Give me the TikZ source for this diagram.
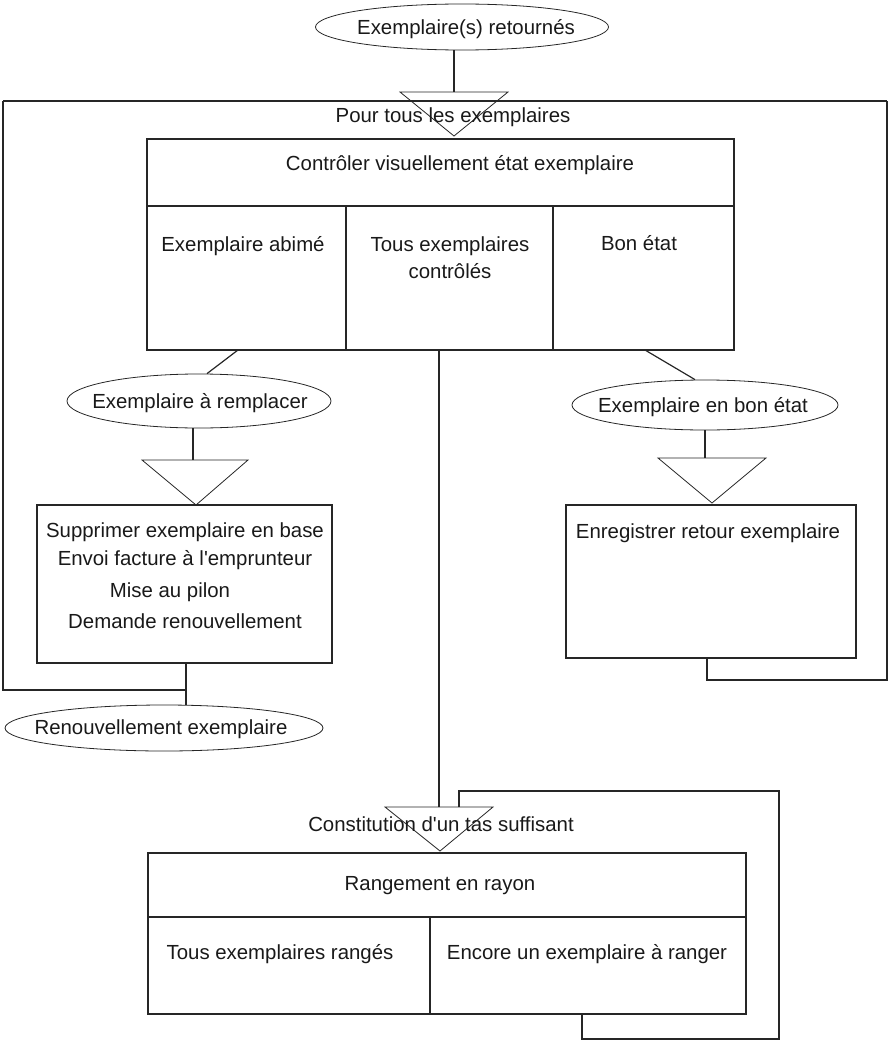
\documentclass[tikz,border=0pt]{standalone}
\usepackage{fontspec}
% family declared on its own so that straight apostrophes stay straight
\newfontfamily\diagfont{Liberation Sans}
\usetikzlibrary{shapes.geometric}
\begin{document}
\begin{tikzpicture}[x=1pt,y=-1pt,
  line width=1.2pt, draw=black!85,
  every node/.style={font=\diagfont\fontsize{20.4}{27}\selectfont, text=black!90},
  oval/.style={draw, ellipse, line width=0.8pt, inner sep=0pt},
  box/.style={draw, rectangle, inner sep=0pt},
  lbl/.style={inner sep=0pt, text height=14.6pt, text depth=0pt, align=center},
  tri/.style={line width=0.8pt}]
\useasboundingbox (0,0) rectangle (888,1041);

% start event
\node[oval, minimum width=293pt, minimum height=46pt] (ret) at (462,27) {};
\node[lbl] (rett) at (466,27) {Exemplaire(s) retournés};

% loop over every copy
\coordinate (t1) at (454,92);
\draw (t1 |- ret.south) -- (t1);
\draw (3,101) -- (887,101);
\draw[tri] (t1) ++(-54,0) -- ++(108,0) -- ++(-54,44) -- cycle;
\node[lbl] (loop1) at (453,115) {Pour tous les exemplaires};

% visual check box
\node[box, minimum width=587pt, minimum height=211pt] (ctrl) at (440.5,244.5) {};
\coordinate (d1) at (346,206);
\coordinate (d2) at (553,206);
\draw (ctrl.west |- d1) -- (ctrl.east |- d1);
\draw (d1) -- (d1 |- ctrl.south);
\draw (d2) -- (d2 |- ctrl.south);
\node[lbl] (ctrlt) at (460,163) {Contrôler visuellement état exemplaire};
\node[lbl] (abime) at (243,244) {Exemplaire abimé};
\node[lbl] (tous1) at (450,244) {Tous exemplaires};
\node[lbl] (tous2) at (450,271) {contrôlés};
\node[lbl] (bonetat) at (639,243) {Bon état};

% damaged copy branch
\node[oval, minimum width=264pt, minimum height=54pt] (rem) at (199,401) {};
\node[lbl] (remt) at (200,401) {Exemplaire à remplacer};
\coordinate (c1) at (238,350);
\draw (c1) -- ([xshift=8pt]rem.north);
\coordinate (t2) at (195,460);
\draw ([xshift=-6pt]rem.south) -- ([xshift=-2pt]t2);
\draw[tri] (t2) ++(-53,0) -- ++(106,0) -- ++(-52,45) -- cycle;
\node[box, minimum width=295pt, minimum height=158pt] (sup) at (184.5,584) {};
\node[lbl] (s1) at (185,530) {Supprimer exemplaire en base};
\node[lbl] (s2) at (185,558) {Envoi facture à l'emprunteur};
\node[lbl] (s3) at (170,590) {Mise au pilon};
\node[lbl] (s4) at (185,621) {Demande renouvellement};
\node[oval, minimum width=318pt, minimum height=46pt] (renouv) at (164,728) {};
\node[lbl] (renouvt) at (161,727) {Renouvellement exemplaire};
\coordinate (jl) at (186,690);
\draw (jl |- sup.south) -- (jl |- renouv.north);
\draw (jl) -- (3,690) -- (3,101);

% good copy branch
\node[oval, minimum width=266pt, minimum height=50pt] (bon) at (705,405) {};
\node[lbl] (bont) at (703,405) {Exemplaire en bon état};
\coordinate (c2) at (645,350);
\draw (c2) -- ([xshift=-10pt]bon.north);
\coordinate (t3) at (712,458);
\draw (bon.south) -- (bon.south |- t3);
\draw[tri] (t3) ++(-54,0) -- ++(108,0) -- ++(-54,45) -- cycle;
\node[box, minimum width=290pt, minimum height=153pt] (enr) at (711,581.5) {};
\node[lbl] (enrt) at (708,531) {Enregistrer retour exemplaire};
\coordinate (jr) at (707,680);
\draw (jr |- enr.south) -- (jr) -- (887,680) -- (887,101);

% shelving
\coordinate (t4) at (439,807);
\draw (t4 |- ctrl.south) -- (t4);
\node[box, minimum width=598pt, minimum height=161pt] (ran) at (447,933.5) {};
\coordinate (d3) at (430,917);
\draw (ran.west |- d3) -- (ran.east |- d3);
\draw (d3) -- (d3 |- ran.south);
\coordinate (jb) at (582,1039);
\draw ([xshift=20pt]t4) -- (459,791) -- (779,791) -- (779,1039) -- (jb) -- (jb |- ran.south);
\draw[tri] (t4) ++(-54,0) -- ++(108,0) -- ++(-53,44) -- cycle;
\node[lbl] (loop2) at (441,824) {Constitution d'un tas suffisant};
\node[lbl] (rant) at (440,883) {Rangement en rayon};
\node[lbl] (ranges) at (280,952) {Tous exemplaires rangés};
\node[lbl] (encore) at (587,952) {Encore un exemplaire à ranger};
\end{tikzpicture}
\end{document}
